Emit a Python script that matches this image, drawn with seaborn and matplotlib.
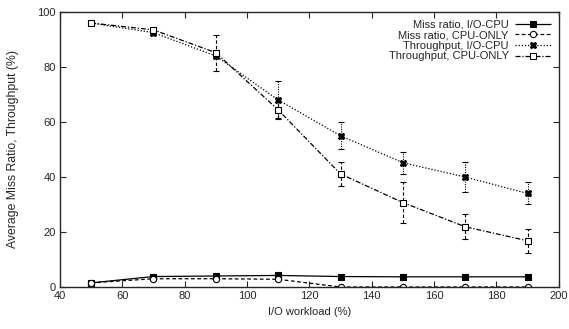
import numpy as np
import pandas as pd
import matplotlib
matplotlib.use("Agg")
import matplotlib.pyplot as plt
import seaborn as sns

# Data
workload = [50, 70, 90, 110, 130, 150, 170, 190]
miss_io_cpu = [1.5, 3.8, 4.0, 4.2, 3.8, 3.7, 3.7, 3.7]
miss_cpu_only = [1.5, 3.0, 3.0, 2.8, 0.0, 0.0, 0.0, 0.0]
thr_io_cpu = [96, 92.5, 84, 68, 55, 45.2, 40, 34]
thr_io_cpu_err = [0, 0, 0, 7, 5, 4, 5.3, 4]
thr_cpu_only = [96, 93.5, 85.2, 64.4, 41.1, 30.7, 21.9, 16.8]
thr_cpu_only_err = [0, 0, 6.5, 3, 4.5, 7.3, 4.5, 4.4]

labels = ["Miss ratio, I/O-CPU", "Miss ratio, CPU-ONLY",
          "Throughput, I/O-CPU", "Throughput, CPU-ONLY"]
open_marker = [False, True, False, True]

df = pd.DataFrame({
    "workload": workload * 4,
    "value": miss_io_cpu + miss_cpu_only + thr_io_cpu + thr_cpu_only,
    "series": np.repeat(labels, len(workload)),
})

sns.set_style("ticks")
plt.rcParams["font.family"] = ["Liberation Sans", "DejaVu Sans"]
plt.rcParams["font.size"] = 8

fig = plt.figure(figsize=(5.69, 3.29), dpi=100)
ax = fig.add_axes([0.1054, 0.1277, 0.8766, 0.8358])

# error bars first so lines sit on top
eb1 = ax.errorbar(workload, thr_io_cpu, yerr=thr_io_cpu_err, fmt="none",
                  ecolor="black", elinewidth=0.8, capsize=2, capthick=0.8, zorder=1)
eb1[2][0].set_linestyle((0, (1, 1.2)))
eb2 = ax.errorbar(workload, thr_cpu_only, yerr=thr_cpu_only_err, fmt="none",
                  ecolor="black", elinewidth=0.8, capsize=2, capthick=0.8, zorder=1)
eb2[2][0].set_linestyle((0, (3, 2)))

sns.lineplot(data=df, x="workload", y="value", hue="series", style="series",
             hue_order=labels, style_order=labels,
             palette=["black"] * 4,
             dashes=[(1, 0), (3, 2), (1, 1.5), (4, 1.5, 1, 1.5)],
             markers=["s", "o", "X", "s"], markersize=4.5,
             linewidth=0.9, ax=ax, legend=True)

# gnuplot-like markers: filled vs open
series_y = [miss_io_cpu, miss_cpu_only, thr_io_cpu, thr_cpu_only]
for line in ax.lines:
    yd = np.asarray(line.get_ydata(), dtype=float)
    if len(yd) != len(workload):
        continue
    for vals, is_open in zip(series_y, open_marker):
        if np.allclose(yd, vals):
            line.set_markerfacecolor("white" if is_open else "black")
            line.set_markeredgecolor("black")
            line.set_markeredgewidth(0.8)

ax.set_xlim(40, 200)
ax.set_ylim(0, 100)
ax.set_xticks(range(40, 201, 20))
ax.set_yticks(range(0, 101, 20))
ax.tick_params(direction="in", top=True, right=True, length=4, width=0.8,
               labelsize=8, pad=3)
for s in ax.spines.values():
    s.set_linewidth(1.0)
    s.set_visible(True)

ax.set_xlabel("I/O workload (%)", fontsize=8)
ax.set_ylabel("Average Miss Ratio, Throughput (%)", fontsize=8.8)
ax.yaxis.set_label_coords(-0.082, 0.5)

leg = ax.legend(loc="upper right", frameon=False, markerfirst=False,
                fontsize=8, handlelength=3.2, labelspacing=0.05,
                borderaxespad=0.3, handletextpad=0.6)
for h, is_open in zip(leg.legend_handles, open_marker):
    h.set_color("black")
    h.set_markeredgecolor("black")
    h.set_markerfacecolor("white" if is_open else "black")

fig.savefig("out.png", dpi=100)
